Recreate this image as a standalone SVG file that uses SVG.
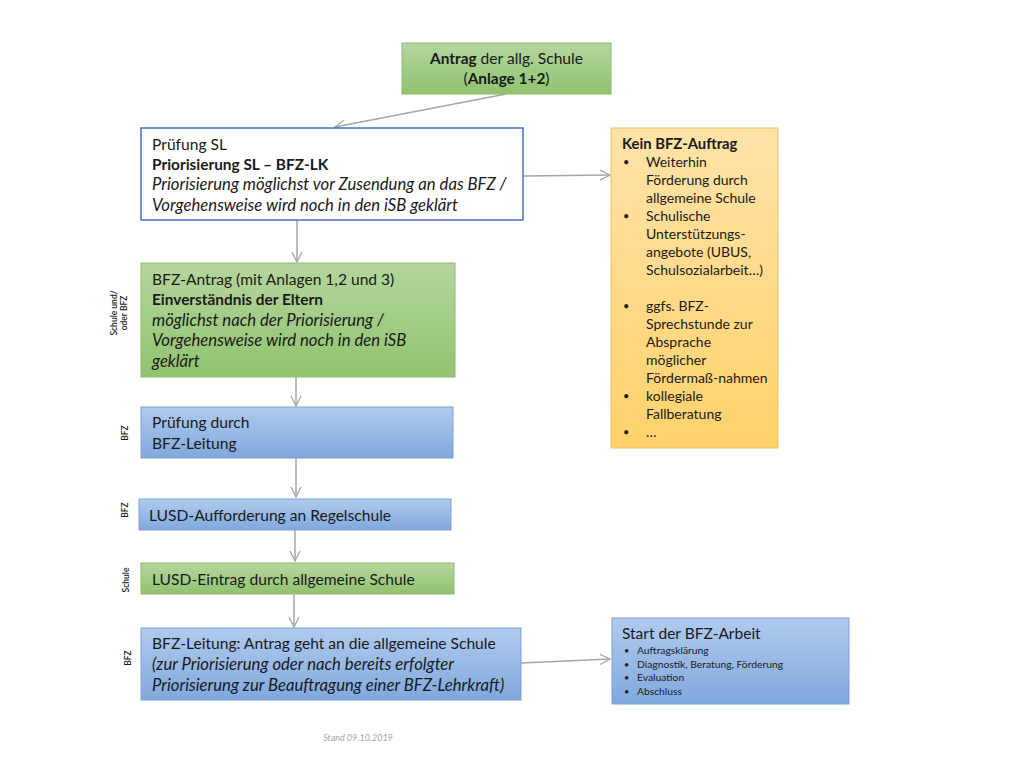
<svg xmlns="http://www.w3.org/2000/svg" width="1024" height="768" viewBox="0 0 1024 768">
<defs>
<linearGradient id="gGreen" x1="0" y1="0" x2="0" y2="1"><stop offset="0" stop-color="#B5D69E"/><stop offset="1" stop-color="#90C36F"/></linearGradient>
<linearGradient id="gBlue" x1="0" y1="0" x2="0" y2="1"><stop offset="0" stop-color="#B0CBEE"/><stop offset="1" stop-color="#80A8DE"/></linearGradient>
<linearGradient id="gOrange" x1="0" y1="0" x2="0" y2="1"><stop offset="0" stop-color="#FFE3A9"/><stop offset="1" stop-color="#FFD26A"/></linearGradient>
<marker id="arr" viewBox="0 0 12 12" refX="11" refY="6" markerWidth="12" markerHeight="12" markerUnits="userSpaceOnUse" orient="auto">
<path d="M1,1 L11,6 L1,11" fill="none" stroke="#A6A6A6" stroke-width="1.3"/>
</marker>
<style>
text{font-family:Lato,"Liberation Sans",sans-serif;fill:#1a1a1a}
.t{font-size:15.6px}
.s{font-size:14px}
.x{font-size:10.3px}
.b{font-weight:bold;font-size:15.4px}
.i{font-style:italic;font-size:16.7px}
.kb{font-weight:bold;font-size:14.8px}
.bul{font-size:11px}
.lab{font-size:8.5px;font-weight:600}
.green{fill:url(#gGreen);stroke:#8EBA70;stroke-width:1}
.blue{fill:url(#gBlue);stroke:#7FA1D2;stroke-width:1}
.orange{fill:url(#gOrange);stroke:#F2C15E;stroke-width:1}
.white{fill:#fff;stroke:#4472C4;stroke-width:1.5}
.con{fill:none;stroke:#A6A6A6;stroke-width:1.5;marker-end:url(#arr)}
</style>
</defs>

<g id="connectors">
<line class="con" x1="506" y1="94" x2="335" y2="127"/>
<line class="con" x1="523" y1="176" x2="610" y2="175"/>
<line class="con" x1="297" y1="220" x2="297" y2="262"/>
<line class="con" x1="296" y1="377" x2="296" y2="406"/>
<line class="con" x1="296" y1="458" x2="296" y2="497"/>
<line class="con" x1="295" y1="530" x2="295" y2="561"/>
<line class="con" x1="294" y1="595" x2="294" y2="627"/>
<line class="con" x1="521" y1="663" x2="610" y2="659"/>
</g>

<g id="antrag">
<rect class="green" x="402" y="43" width="209" height="51"/>
<text class="t" x="506.5" y="64" text-anchor="middle"><tspan class="b">Antrag</tspan> der allg. Schule</text>
<text class="t" x="506.5" y="84" text-anchor="middle">(<tspan class="b">Anlage 1+2</tspan>)</text>
</g>

<g id="pruefung-sl">
<rect class="white" x="141" y="128" width="382" height="92"/>
<text class="t" x="152" y="150">Prüfung SL</text>
<text class="b" x="152" y="170">Priorisierung SL – BFZ-LK</text>
<text class="i" x="152" y="190">Priorisierung möglichst vor Zusendung an das BFZ /</text>
<text class="i" x="152" y="211">Vorgehensweise wird noch in den iSB geklärt</text>
</g>

<g id="kein-auftrag">
<rect class="orange" x="611" y="128" width="167" height="320"/>
<text class="kb" x="622" y="149">Kein BFZ-Auftrag</text>
<g class="s">
<text class="bul" x="623" y="166">•</text><text x="646" y="167">Weiterhin</text>
<text x="646" y="185">Förderung durch</text>
<text x="646" y="203">allgemeine Schule</text>
<text class="bul" x="623" y="220">•</text><text x="646" y="221">Schulische</text>
<text x="646" y="239">Unterstützungs-</text>
<text x="646" y="257">angebote (UBUS,</text>
<text x="646" y="275">Schulsozialarbeit…)</text>
<text class="bul" x="623" y="310">•</text><text x="646" y="311">ggfs. BFZ-</text>
<text x="646" y="329">Sprechstunde zur</text>
<text x="646" y="347">Absprache</text>
<text x="646" y="365">möglicher</text>
<text x="646" y="383">Fördermaß-nahmen</text>
<text class="bul" x="623" y="400">•</text><text x="646" y="401">kollegiale</text>
<text x="646" y="419">Fallberatung</text>
<text class="bul" x="623" y="436">•</text><text x="646" y="437">…</text>
</g>
</g>

<g id="bfz-antrag">
<rect class="green" x="141" y="263" width="314" height="114"/>
<text class="t" x="152" y="285">BFZ-Antrag (mit Anlagen 1,2 und 3)</text>
<text class="b" x="152" y="305">Einverständnis der Eltern</text>
<text class="i" x="152" y="326">möglichst nach der Priorisierung /</text>
<text class="i" x="152" y="346">Vorgehensweise wird noch in den iSB</text>
<text class="i" x="152" y="367">geklärt</text>
</g>

<g id="pruefung-bfz">
<rect class="blue" x="141" y="407" width="312" height="51"/>
<text class="t" x="152" y="428">Prüfung durch</text>
<text class="t" x="152" y="449">BFZ-Leitung</text>
</g>

<g id="lusd-aufforderung">
<rect class="blue" x="139" y="499" width="312" height="31"/>
<text class="t" x="149" y="521">LUSD-Aufforderung an Regelschule</text>
</g>

<g id="lusd-eintrag">
<rect class="green" x="141" y="563" width="313" height="31"/>
<text class="t" x="152" y="585">LUSD-Eintrag durch allgemeine Schule</text>
</g>

<g id="bfz-leitung">
<rect class="blue" x="141" y="628" width="380" height="72"/>
<text class="t" x="152" y="649">BFZ-Leitung: Antrag geht an die allgemeine Schule</text>
<text class="i" x="152" y="670">(zur Priorisierung oder nach bereits erfolgter</text>
<text class="i" x="152" y="691">Priorisierung zur Beauftragung einer BFZ-Lehrkraft)</text>
</g>

<g id="start-bfz">
<rect class="blue" x="612" y="618" width="237" height="86"/>
<text x="622" y="639" style="font-size:15.5px">Start der BFZ-Arbeit</text>
<g class="x">
<text x="624" y="654" style="font-size:9px">•</text><text x="637" y="654">Auftragsklärung</text>
<text x="624" y="667.5" style="font-size:9px">•</text><text x="637" y="667.5">Diagnostik, Beratung, Förderung</text>
<text x="624" y="681" style="font-size:9px">•</text><text x="637" y="681">Evaluation</text>
<text x="624" y="694.5" style="font-size:9px">•</text><text x="637" y="694.5">Abschluss</text>
</g>
</g>

<g id="side-labels">
<text class="lab" text-anchor="middle" transform="translate(117,313) rotate(-90)">Schule und/</text>
<text class="lab" text-anchor="middle" transform="translate(127,313) rotate(-90)">oder  BFZ</text>
<text class="lab" text-anchor="middle" transform="translate(128,433) rotate(-90)">BFZ</text>
<text class="lab" text-anchor="middle" transform="translate(128,510) rotate(-90)">BFZ</text>
<text class="lab" text-anchor="middle" transform="translate(129,580) rotate(-90)">Schule</text>
<text class="lab" text-anchor="middle" transform="translate(131,658) rotate(-90)">BFZ</text>
</g>

<text x="358" y="741" text-anchor="middle" style="font-size:9px;font-style:italic;fill:#A6A6A6">Stand 09.10.2019</text>
</svg>
